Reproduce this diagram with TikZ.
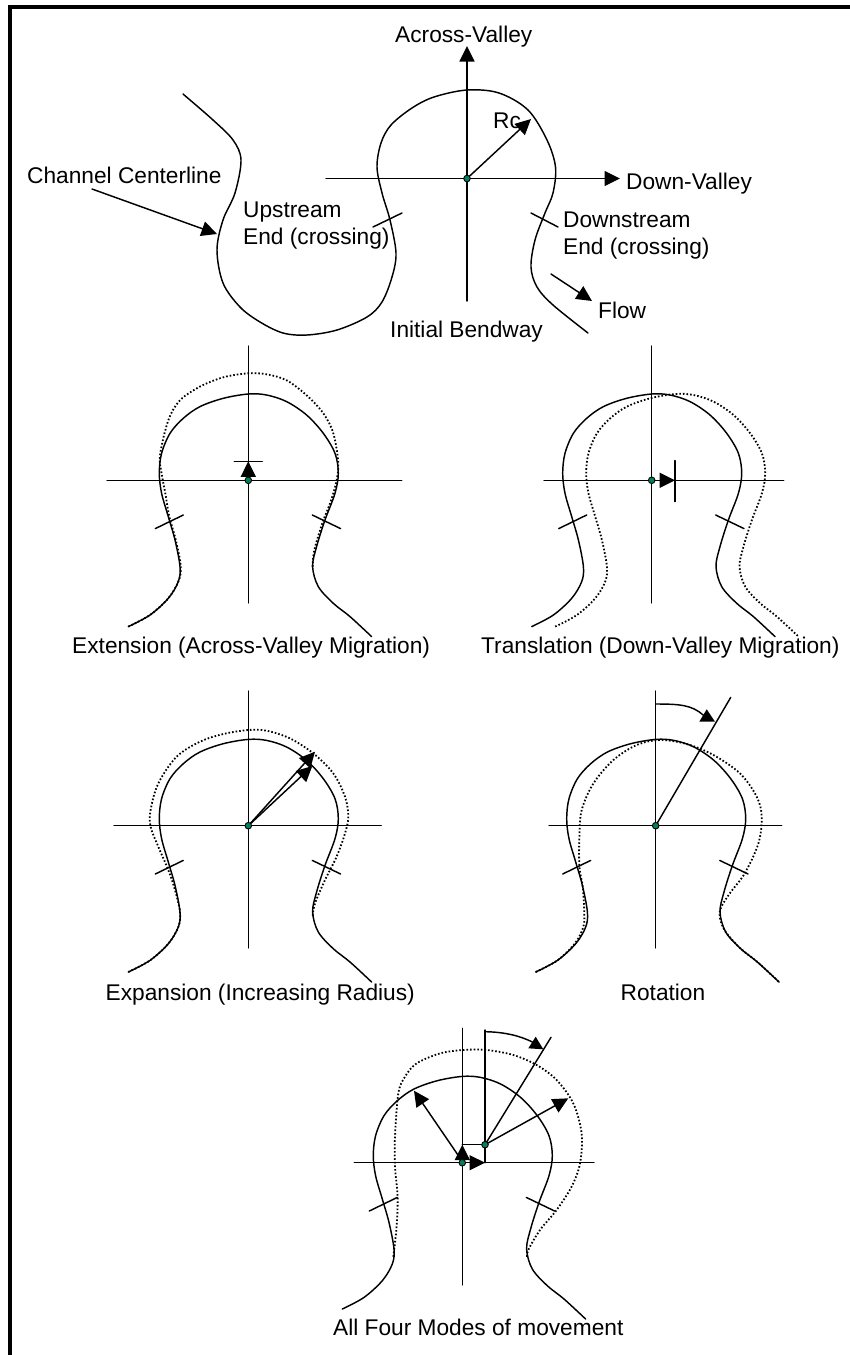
\documentclass[tikz,border=0pt]{standalone}
\usepackage{fontspec}
\setmainfont{Liberation Sans}
\usetikzlibrary{arrows.meta}
\definecolor{dotgreen}{rgb}{0.0,0.5,0.38}
\tikzset{
  lab/.style={anchor=base west,inner sep=0pt,font=\fontsize{22.7}{26}\selectfont},
  thin line/.style={line width=1.45pt,line cap=round,line join=round},
  dotline/.style={line width=1.8pt,dash pattern=on 1.6pt off 2pt},
  arr/.style={thin line,-{Triangle[length=15.5pt,width=15pt]}},
  frame line/.style={line width=4pt},
  head/.style={fill=black,draw=none}
}
\newcommand{\solidbend}{%
  \draw[thin line] plot[smooth,tension=0.55] coordinates {
  (-120,146.3) (-98.3,134.7) (-80,118) (-70,101.3) (-68.3,86.3) (-73.3,59.7) (-80,36.3) (-86.7,13) (-89,-7)
  (-86.7,-27) (-78.3,-47) (-65,-62) (-48.3,-73.7) (-25,-82) (0,-86.3) (18.3,-85.3) (38.3,-78.7) (58.3,-65.3)
  (75,-47) (86.7,-27) (90,-7) (86.7,13) (76.7,39.7) (68.3,66.3) (64.3,86.3) (70,106.3) (85,123) (101.7,136.3) (123.3,156.3)};}
\newcommand{\ticks}{%
  \draw[thin line] (-93,48.3) -- (-65,34.7);
  \draw[thin line] (64,34.7) -- (92.3,48.3);}
\newcommand{\greendot}[1]{\fill[dotgreen,draw=black,line width=0.9pt] (#1) circle (3.3pt);}
% name, cx, cy, left, right, top, bottom
\newcommand{\axes}[7]{%
  \coordinate (#1c) at (#2,#3);
  \coordinate (#1w) at (#4,#3);
  \coordinate (#1e) at (#5,#3);
  \coordinate (#1n) at (#2,#6);
  \coordinate (#1s) at (#2,#7);
  \draw[thin line] (#1w) -- (#1e);
  \draw[thin line] (#1n) -- (#1s);}
\begin{document}
\begin{tikzpicture}[x=1pt,y=-1pt]
\useasboundingbox (0,0) rectangle (850,1355);
\fill[white] (0,0) rectangle (850,1355);
% frame
\coordinate (ftl) at (10,7);
\coordinate (ftr) at (850,7);
\coordinate (fbl) at (10,1355);
\draw[frame line] (ftr) -- (8,7);
\draw[frame line] (ftl) -- (fbl);

%%% Panel 1
\coordinate (ac) at (467,178.5);
\coordinate (aw) at (326,178.5);
\coordinate (ae) at (620,178.5);
\coordinate (an) at (467,46);
\coordinate (as) at (467,301);
\draw[arr] (aw) -- (ae);
\draw[arr] (as) -- (an);
\coordinate (arc) at (531,119);
\draw[arr] (ac) -- (arc);
\draw[thin line] plot[smooth,tension=0.55] coordinates {
 (183,94) (213,120) (233,140) (241,160) (235,193) (223,220) (217,250) (223,283) (240,307) (260,322) (283,333)
 (307,335) (337,330) (367,317) (382,302) (392,277) (396,253) (390,220) (382,193) (377,167) (381,143) (391,125)
 (412,108) (434,97) (467,90) (499,93) (528,110) (547,140) (555.5,167) (553,193) (545,213) (535,240) (531,267)
 (537,287) (553,305) (588,333)};
\greendot{ac}
\draw[thin line] (373,227) -- (402,213);
\draw[thin line] (531,213) -- (558,227);
\coordinate (chs) at (92,189);
\coordinate (cht) at (217,234);
\draw[arr] (chs) -- (cht);
\coordinate (fls) at (551,274);
\coordinate (flt) at (592,301);
\draw[arr] (fls) -- (flt);
\node[lab] (tacross) at (395,42) {Across-Valley};
\node[lab] (tdown) at (626,189) {Down-Valley};
\node[lab] (trc) at (493,128) {Rc};
\node[lab] (tchan) at (27,183) {Channel Centerline};
\node[lab] (tup1) at (243,217) {Upstream};
\node[lab] (tup2) at (243,244) {End (crossing)};
\node[lab] (tdn1) at (563,227) {Downstream};
\node[lab] (tdn2) at (563,254) {End (crossing)};
\node[lab] (tflow) at (598,318) {Flow};
\node[lab] (tinit) at (390,337) {Initial Bendway};

%%% Panel 2 Extension
\axes{b}{248.3}{480.3}{107}{401.7}{346}{603}
\begin{scope}[shift={(248.3,480.3)}]
  \solidbend \ticks
  \draw[dotline] plot[smooth,tension=0.55] coordinates {
  (-120,146.3) (-98.3,134.7) (-80,118) (-70,101.3) (-67.5,86.3) (-72.5,59.7) (-79,36.3) (-83,13) (-86.7,-7) (-88.3,-25)
  (-80,-60) (-68.3,-80) (-48.3,-93.7) (-25,-103) (0,-107) (18.3,-106) (38.3,-100) (58.3,-85) (75,-67) (85,-47) (90,-17)
  (87.7,3) (81.7,23) (74,43) (66,70) (64.3,86.3)};
  \coordinate (bt) at (0,-19);
  \coordinate (bb1) at (-14,-19);
  \coordinate (bb2) at (14,-19);
\end{scope}
\draw[thin line] (bb1) -- (bb2);
\draw[arr] (bc) -- (bt);
\greendot{bc}
\node[lab] (tb) at (72,653) {Extension (Across-Valley Migration)};

%%% Panel 3 Translation
\axes{d}{651.7}{480.3}{544}{783.7}{346}{603}
\begin{scope}[shift={(651.7,480.3)}]
  \solidbend \ticks
  \begin{scope}[xshift=23.5pt]
    \draw[dotline] plot[smooth,tension=0.55] coordinates {
    (-120,146.3) (-98.3,134.7) (-80,118) (-70,101.3) (-68.3,86.3) (-73.3,59.7) (-80,36.3) (-86.7,13) (-89,-7)
    (-86.7,-27) (-78.3,-47) (-65,-62) (-48.3,-73.7) (-25,-82) (0,-86.3) (18.3,-85.3) (38.3,-78.7) (58.3,-65.3)
    (75,-47) (86.7,-27) (90,-7) (86.7,13) (76.7,39.7) (68.3,66.3) (64.3,86.3) (70,106.3) (85,123) (101.7,136.3) (123.3,156.3)};
  \end{scope}
  \coordinate (dt) at (23.3,0);
  \coordinate (db1) at (23.3,-19.7);
  \coordinate (db2) at (23.3,21.3);
\end{scope}
\draw[thin line] (db1) -- (db2);
\draw[arr] (dc) -- (dt);
\greendot{dc}
\node[lab] (td) at (481,653) {Translation (Down-Valley Migration)};

%%% Panel 4 Expansion
\axes{e}{248.3}{825.7}{114}{381.3}{691}{948}
\begin{scope}[shift={(248.3,825.7)}]
  \solidbend \ticks
  \draw[dotline] plot[smooth,tension=0.55] coordinates {
  (-120,146.3) (-98.3,134.7) (-80,118) (-70,101.3) (-68.3,86.3) (-73.3,64.3) (-80,44.3) (-90,21) (-97.7,1) (-97.7,-15.7)
  (-90,-42.3) (-71.7,-69) (-48.3,-84) (-25,-91.7) (0,-95.7) (18.3,-95) (41.7,-87.3) (65,-72.3) (85,-52.3) (96.7,-29)
  (100,-9) (96.7,7.7) (88.3,31) (76.7,54.3) (66.7,77.7) (64.3,91)};
  \coordinate (et1) at (66.7,-74);
  \coordinate (et2) at (64,-59.7);
\end{scope}
\draw[arr] (ec) -- (et1);
\draw[arr] (ec) -- (et2);
\greendot{ec}
\node[lab] (te) at (105.5,1000) {Expansion (Increasing Radius)};

%%% Panel 5 Rotation
\axes{f}{655.7}{825.7}{549}{781.7}{691}{948}
\begin{scope}[shift={(655.7,825.7)}]
  \solidbend \ticks
  \draw[dotline] plot[smooth,tension=0.55] coordinates {
  (-120,146.3) (-98.3,134.7) (-81,118) (-72.3,101) (-71.5,84.3) (-73,61) (-76.3,41) (-76.3,11) (-74,-15.7) (-62.3,-42.3)
  (-42.3,-65.7) (-19,-80.7) (4.3,-85.7) (31,-81.7) (57.7,-70.7) (84.3,-52.3) (101,-29) (106,-9) (102.7,17.7) (89,47.7)
  (74,67.7) (65,82.7) (64.3,92.7) (70,106.3) (85,123) (101.7,136.3) (123.3,156.3)};
  \coordinate (fl) at (75,-128.3);
  \coordinate (fa1) at (0,-121.7);
  \coordinate (fa2) at (47.7,-110.5);
\end{scope}
\draw[thin line] (fc) -- (fl);
\draw[thin line] (fa1) .. controls (680,704) and (692,705) .. (fa2);
\fill[head] (706.7,709.3) -- (699.3,721.7) -- (715,721.7) -- cycle;
\greendot{fc}
\node[lab] (tf) at (620.5,1000) {Rotation};

%%% Panel 6 All four
\axes{g}{462.3}{1162.7}{354.3}{594}{1028.3}{1285}
\begin{scope}[shift={(462.3,1162.7)}]
  \solidbend \ticks
  \draw[dotline] plot[smooth,tension=0.55] coordinates {
  (-69,94) (-65.7,64) (-64.7,34) (-67.3,4) (-67.3,-26) (-64,-69.3) (-57.3,-86) (-45.7,-99.3) (-22.3,-109.3) (1,-112.7)
  (24.3,-112.7) (51,-107.7) (74.3,-97.7) (94.3,-82.7) (111,-59.3) (119.3,-29.3) (117.7,0.7) (109.3,24) (94.3,47.3)
  (77.7,67.3) (66,87.3) (65,95.7)};
\end{scope}
\coordinate (g2) at (485,1144.7);
\coordinate (g2n) at (485,1030);
\coordinate (g2b) at (485,1162.7);
\coordinate (gup) at (462.3,1144.7);
\coordinate (gl) at (551,1037.3);
\coordinate (gr) at (568.3,1098.3);
\coordinate (gul) at (414,1090.7);
\coordinate (gus) at (460,1158);
\coordinate (ga2) at (536,1044);
\draw[thin line] (g2n) -- (g2) -- (gup);
\draw[thin line] (g2) -- (g2b);
\draw[thin line] (g2) -- (gl);
\draw[arr] (g2) -- (gr);
\draw[arr] (gus) -- (gul);
\draw[arr] (gc) -- (gup);
\draw[arr] (gc) -- (g2b);
\draw[thin line] (485,1031.7) .. controls (505,1032) and (522,1036) .. (ga2);
\fill[head] (535.7,1036.7) -- (528.3,1048.3) -- (543.3,1049.3) -- cycle;
\greendot{gc}
\greendot{g2}
\node[lab] (tg) at (333,1335) {All Four Modes of movement};
\end{tikzpicture}
\end{document}
